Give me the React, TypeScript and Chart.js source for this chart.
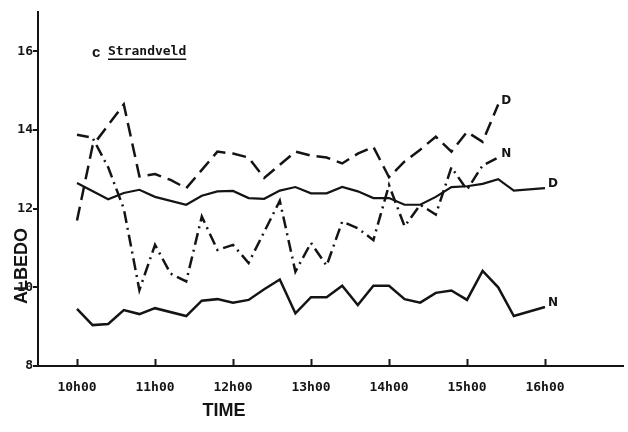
import React, { useEffect, useRef } from 'react';
import { Chart, registerables } from 'chart.js';

Chart.register(...registerables);

const INK = '#141414';

// Time of day in decimal hours (12-minute readings)
const TIMES = [10.0, 10.2, 10.4, 10.6, 10.8, 11.0, 11.2, 11.4, 11.6, 11.8, 12.0, 12.2, 12.4, 12.6, 12.8, 13.0, 13.2, 13.4, 13.6, 13.8, 14.0, 14.2, 14.4, 14.6, 14.8, 15.0, 15.2, 15.4, 15.6, 15.8, 16.0];

// Solid line, label D (upper solid)
const SOLID_D = [12.65, null, 12.24, 12.4, 12.48, 12.3, null, 12.1, 12.33, 12.44, 12.45, 12.27, 12.25, 12.46, 12.55, 12.39, 12.39, 12.55, 12.44, 12.27, 12.27, 12.1, 12.1, 12.3, 12.55, 12.57, 12.63, 12.75, 12.46, null, 12.52];
// Solid line, label N (lower solid)
const SOLID_N = [9.45, 9.04, 9.07, 9.42, 9.32, 9.47, null, 9.27, 9.66, 9.7, 9.61, 9.68, 9.95, 10.2, 9.34, 9.75, 9.75, 10.04, 9.55, 10.04, 10.04, 9.7, 9.61, 9.86, 9.92, 9.68, 10.42, 10.0, 9.27, null, 9.5];
// Dashed line, label D
const DASHED_D = [11.7, 13.6, null, 14.65, 12.82, 12.88, 12.73, 12.52, null, 13.45, 13.4, 13.3, 12.78, null, 13.45, 13.35, 13.3, 13.15, 13.4, 13.57, 12.8, 13.2, 13.5, 13.83, 13.45, 13.95, 13.7, 14.65, null, null, null];
// Dash-dot line, label N
const DASHDOT_N = [13.88, 13.8, 13.05, 12.0, 9.93, 11.08, 10.35, 10.15, 11.8, 10.95, 11.08, 10.62, null, 12.2, 10.4, 11.13, 10.55, 11.67, 11.5, 11.2, 12.6, 11.55, 12.1, 11.85, 13.05, 12.48, 13.1, 13.3, null, null, null];

const SERIES_LABELS = ['D', 'N', 'D', 'N'];

const X_TICKS = [10, 11, 12, 13, 14, 15, 16];
const X_TICK_LABELS = ['10h00', '11h00', '12h00', '13h00', '14h00', '15h00', '16h00'];
const Y_TICKS = [8, 10, 12, 14, 16];
const Y_TICK_LABELS = ['8', '10', '12', '14', '16'];

const PANEL_LETTER = 'c';
const PANEL_TITLE = 'Strandveld';
const X_TITLE = 'TIME';
const Y_TITLE = 'ALBEDO';

const toPoints = (vals: (number | null)[]) => TIMES.map((t, i) => ({ x: t, y: vals[i] }));

const overlay = {
  id: 'overlay',
  afterDraw(chart: any) {
    const ctx = chart.ctx as CanvasRenderingContext2D;
    const xs = chart.scales.x;
    const ys = chart.scales.y;
    const ca = chart.chartArea;
    ctx.save();
    ctx.fillStyle = INK;
    ctx.strokeStyle = INK;
    // inward x tick marks
    ctx.lineWidth = 2;
    X_TICKS.forEach((v) => {
      const px = Math.round(xs.getPixelForValue(v)) + 0.5;
      ctx.beginPath();
      ctx.moveTo(px, ca.bottom);
      ctx.lineTo(px, ca.bottom - 7);
      ctx.stroke();
    });
    // end-of-line labels
    ctx.font = 'bold 12px "DejaVu Sans"';
    ctx.textAlign = 'left';
    ctx.textBaseline = 'middle';
    chart.data.datasets.forEach((ds: any, i: number) => {
      let last: any = null;
      for (const p of ds.data) if (p.y !== null && p.y !== undefined) last = p;
      if (!last) return;
      const px = xs.getPixelForValue(last.x);
      const py = ys.getPixelForValue(last.y);
      ctx.fillText(SERIES_LABELS[i], px + 3, py - 4);
    });
    // panel title
    const ty = ys.getPixelForValue(16) + 1;
    ctx.font = 'bold 15px "Liberation Sans"';
    ctx.fillText(PANEL_LETTER, ca.left + 54, ty + 1);
    ctx.font = 'bold 13px "DejaVu Sans Mono"';
    const tx = ca.left + 70;
    ctx.fillText(PANEL_TITLE, tx, ty - 1);
    const w = ctx.measureText(PANEL_TITLE).width;
    ctx.lineWidth = 1.5;
    ctx.beginPath();
    ctx.moveTo(tx, ty + 7);
    ctx.lineTo(tx + w, ty + 7);
    ctx.stroke();
    // axis titles
    ctx.font = 'bold 18px "Liberation Sans"';
    ctx.textAlign = 'center';
    ctx.fillText(X_TITLE, ca.left + 186, ca.bottom + 45);
    ctx.translate(ca.left - 16, ca.bottom - 100);
    ctx.rotate(-Math.PI / 2);
    ctx.fillText(Y_TITLE, 0, 0);
    ctx.restore();
  },
};

export default function App() {
  const ref = useRef<HTMLCanvasElement | null>(null);
  useEffect(() => {
    if (!ref.current) return;
    const mk = (vals: (number | null)[], dash: number[], width: number) => ({
      data: toPoints(vals),
      borderColor: INK,
      backgroundColor: INK,
      borderWidth: width,
      borderDash: dash,
      pointRadius: 0,
      tension: 0,
      spanGaps: true,
      fill: false,
    });
    const chart = new Chart(ref.current, {
      type: 'line',
      data: {
        datasets: [
          mk(SOLID_D, [], 2.2),
          mk(SOLID_N, [], 2.5),
          mk(DASHED_D, [14, 7], 2.5),
          mk(DASHDOT_N, [12, 5, 2, 5], 2.5),
        ],
      },
      options: {
        responsive: false,
        animation: false,
        devicePixelRatio: 1,
        layout: { padding: { left: 0, right: 5, top: 12, bottom: 0 } },
        plugins: { legend: { display: false }, tooltip: { enabled: false } },
        scales: {
          x: {
            type: 'linear',
            min: 9.5,
            max: 17,
            afterBuildTicks: (s: any) => {
              s.ticks = X_TICKS.map((v) => ({ value: v }));
            },
            afterFit: (s: any) => {
              s.height = 66;
            },
            grid: { drawOnChartArea: false, drawTicks: false },
            border: { display: true, color: INK, width: 2 },
            ticks: {
              autoSkip: false,
              maxRotation: 0,
              padding: 14,
              color: INK,
              font: { family: '"DejaVu Sans Mono"', size: 13, weight: 'bold' },
              callback: (v: any) => X_TICK_LABELS[X_TICKS.indexOf(Number(v))],
            },
          },
          y: {
            type: 'linear',
            min: 8,
            max: 17,
            afterBuildTicks: (s: any) => {
              s.ticks = Y_TICKS.map((v) => ({ value: v }));
            },
            afterFit: (s: any) => {
              s.width = 38;
            },
            grid: { drawOnChartArea: false, drawTicks: true, tickLength: 5, color: INK, lineWidth: 2 },
            border: { display: true, color: INK, width: 2 },
            ticks: {
              padding: 0,
              color: INK,
              font: { family: '"DejaVu Sans Mono"', size: 13, weight: 'bold' },
              callback: (v: any) => Y_TICK_LABELS[Y_TICKS.indexOf(Number(v))],
            },
          },
        },
      } as any,
      plugins: [overlay],
    });
    return () => chart.destroy();
  }, []);
  return (
    <div style={{ position: 'fixed', left: 0, top: 0, width: 628, height: 432, background: '#fff' }}>
      <canvas ref={ref} width={628} height={432} style={{ width: 628, height: 432, display: 'block' }} />
    </div>
  );
}
